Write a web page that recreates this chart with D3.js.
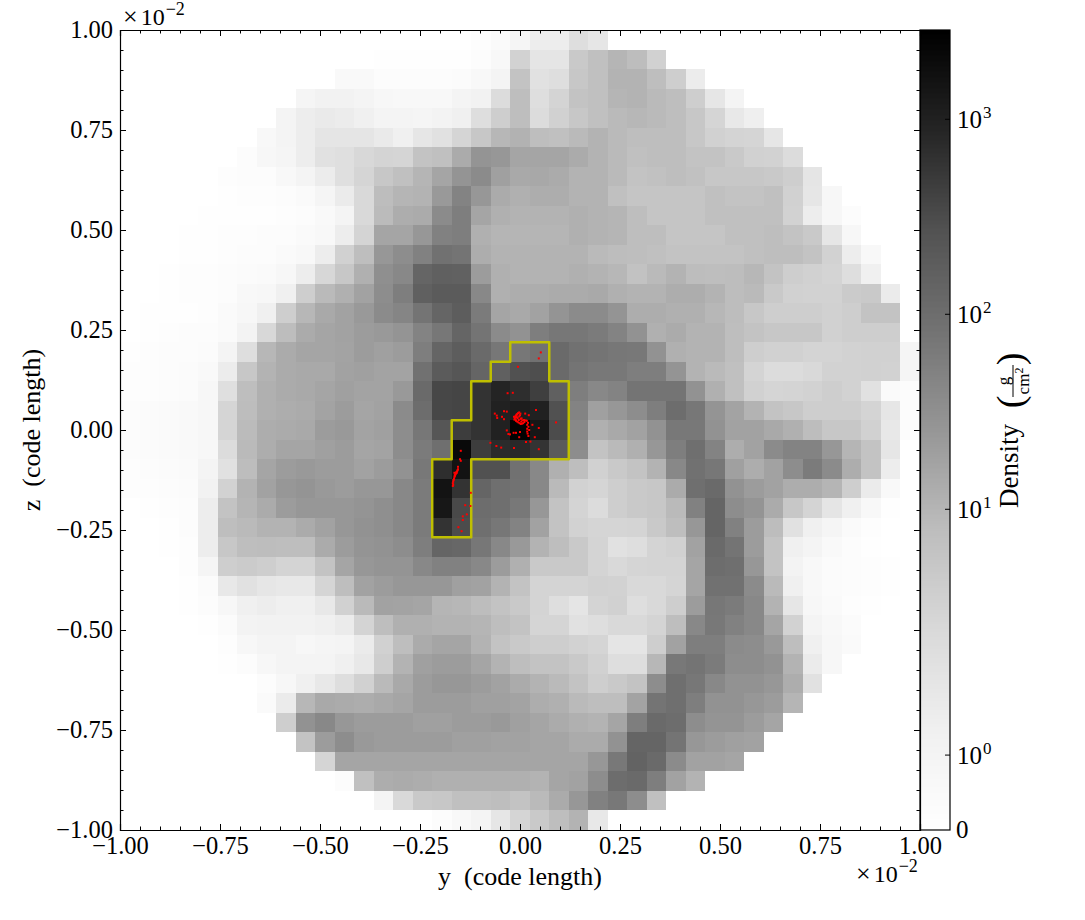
<!DOCTYPE html>
<html>
<head>
<meta charset="utf-8">
<script src="https://cdn.jsdelivr.net/npm/d3@7"></script>
<style>
    html, body { margin: 0; padding: 0; background: #fff; }
    text { font-family: "Liberation Serif", serif; fill: #000; }
</style>
</head>
<body>
<div id="chart"></div>
<script>
// projected density per cell, top row first, left to right
const density = [
[0,0,0,0,0,0,0,0,0,0,0,0,0,0,0,0,0,0,.2,.44,.89,1.5,1.5,2.4,1.9,0,0,0,0,0,0,0,0,0,0,0,0,0,0,0,0],
[0,0,0,0,0,0,0,0,0,0,0,0,0,.1,.1,.1,.1,.1,.25,.6,3.2,2,2,4.8,6.8,10,7.8,3.4,0,0,0,0,0,0,0,0,0,0,0,0,0],
[0,0,0,0,0,0,0,0,0,0,0,.5,.5,.25,.25,.25,.25,.35,.6,1,6,2.2,2.4,5.2,6.8,10.6,10.6,7.4,3.9,1.55,0,0,0,0,0,0,0,0,0,0,0],
[0,0,0,0,0,0,0,0,0,.89,1.2,1.2,.95,.75,.6,.6,.6,.95,1.2,2.5,7.4,2.4,3,6,6.8,10,10.6,8.6,7.4,3.9,1.9,1,0,0,0,0,0,0,0,0,0],
[0,0,0,0,0,0,0,0,1,1.5,1.7,1.55,1.33,1,.95,.89,1.1,1.33,2.4,3.9,7.4,2.5,3.4,5.2,6.8,8.6,9.4,8.6,7.4,5.2,2.85,1.8,1.4,0,0,0,0,0,0,0,0],
[0,0,0,0,0,0,0,.6,1,1.5,2,2,2,1.7,1.33,1.9,2.2,2.85,5.2,9.4,11,7.4,6.8,8.6,10.6,8.6,7.4,7.4,7.4,5.2,3.4,3,2.85,1.9,0,0,0,0,0,0,0],
[0,0,0,0,0,0,.25,.7,.89,1.5,2.2,2.3,2.7,3,2.9,6,6.8,13.6,27,25,16,16,16,13.6,10.6,8.6,6.8,7.4,7.4,6,6,4.8,3.4,3.2,2.5,0,0,0,0,0,0],
[0,0,0,0,0,.2,.25,.25,.6,.95,1.55,2.3,2.9,5.2,6.8,10,16,27,37,19,14.5,15,13.6,10.6,10.6,8.6,6,6.5,7.4,6.5,5.2,5.2,5.2,4.8,3.9,2,0,0,0,0,0],
[0,0,0,0,0,.1,.2,.2,.25,.44,.89,1.63,2.65,7.8,10,10.6,23,49,25,13.6,11.7,12.8,12.8,10.6,10.6,6.8,5.6,5.6,5.6,5.6,6.8,6,6,6.8,3.4,1.9,.75,0,0,0,0],
[0,0,0,0,.1,.1,.1,.1,.2,.25,.5,.95,2.65,8.4,12.8,13.6,37,57,16,11.7,10.6,10.6,10.6,11.7,10.6,10,7.4,5.6,5.6,5.6,6.8,6.8,6.8,6.8,3.2,1.5,.75,.25,0,0,0],
[0,0,0,.1,.1,.2,.2,.25,.25,.44,.6,1.5,3,16,16,25,52,57,11.7,10,10,10,10,11.7,10.6,10,7.4,7.4,5.6,5.6,5.6,6.8,6.8,7.4,6,4.8,1.9,.7,0,0,0],
[0,0,0,.1,.1,.2,.25,.25,.44,.6,1.5,3.4,7.4,25,35,52,90,81,12.8,10.6,10.6,10.6,10.6,10.6,8.6,7.8,7.4,6.8,6,6,6,6,6.8,7.4,7.4,6,3.2,1.5,.6,0,0],
[0,0,.1,.2,.2,.25,.35,.44,.7,1.5,2.75,5.2,11.7,32,41,138,164,158,21,11.7,10.6,10.6,10.6,11.7,10.6,9.4,6.4,8.6,10.6,7.8,7.4,7.8,9.4,6,3.9,3.4,3,2.4,1.33,0,0],
[0,0,.1,.2,.2,.25,.6,.75,1.33,3.9,8.6,11.7,18,35,57,164,199,199,41,11.7,12.8,12.8,13.6,13.6,14.5,11.7,10.6,10.6,12.8,12.8,10.6,7.8,8.6,4.8,3.4,3.2,3.2,4.3,4.8,1.63,0],
[0,.1,.1,.1,.2,.44,.75,1.33,3.9,9.4,14.5,18,23,37,45,81,138,185,64,16,14.5,18,27,37,37,27,12.8,12.8,11.7,11.7,9.4,7.8,5.2,3.9,3.9,3.9,3.4,3.9,6,6,0],
[0,.1,.2,.25,.25,.44,1.1,2.7,7.8,13.6,16,18,21,23,27,49,73,138,81,37,29,57,73,73,64,49,29,11.7,13.6,10.6,10.6,7.4,6,5.2,5.2,5.2,3.4,3.9,3.9,3.9,0],
[.1,.2,.25,.25,.35,.95,2.4,9.4,13.6,16,16,17,21,19,21,57,138,185,115,73,73,90,115,90,81,73,69,29,11.7,10.6,10.6,7.4,3.9,3.4,3.4,3,3,3.2,3.4,3.4,.89],
[.2,.2,.25,.35,.5,1.55,5.2,10.6,13.6,14.5,14.5,18,19,17,17,90,199,237,138,164,277,300,115,81,69,69,57,57,27,10.6,8.6,6.8,3,2.5,2.5,2.65,3.2,3.2,3.4,3.2,.89],
[.2,.2,.25,.35,.7,2.3,7.4,11.7,13.6,14.5,16,19,17,17,23,115,362,385,610,900,695,445,164,57,41,49,81,81,81,29,11.7,6.8,3.4,2.9,3,3.2,3.9,3.2,2.2,.44,.25],
[.25,.35,.44,.5,.75,2.85,7.8,11.7,12.8,13.6,17,21,16,18,37,103,362,385,610,1010,1150,1010,277,49,19,25,35,57,103,73,27,17,10.6,6,5.2,3.9,3.9,3.9,3,1.9,.25],
[.25,.35,.44,.5,.75,2.9,8.4,12.8,13.6,14.5,21,23,17,19,35,73,237,470,610,1010,2650,1390,320,41,11.7,14.5,18,29,69,69,29,18,18,14.5,11.7,7.8,5.2,5.2,3.4,1.8,.25],
[.25,.35,.44,.5,.7,2.5,8.6,12.8,16,16,19,21,16,17,35,64,97,2170,470,750,792,610,199,35,6,8.6,11.7,25,57,97,49,12.8,18,37,49,49,25,10,6,1.9,0],
[.2,.25,.35,.44,1,2.2,7.8,16,21,23,21,21,18,21,29,69,695,1580,277,277,90,41,11.7,7.4,3.4,4.8,6,10.6,41,90,73,19,12.8,18,35,64,37,12.8,6,1.5,0],
[.2,.2,.25,.35,1.2,3.2,10.6,18,25,27,23,21,25,25,41,64,1580,610,138,97,85,41,8.6,3.2,2.85,3.9,4.8,5.2,13.6,97,115,29,21,18,12.8,12.8,10,3.9,1.63,.5,0],
[0,.1,.2,.25,1.5,6,10,13.6,21,25,25,25,27,32,41,64,1390,345,103,97,69,25,6,3,2.5,3.9,4.8,5.2,8.6,52,138,35,27,13.6,5.2,3,2,1.33,.6,.1,0],
[0,0,.1,.25,1.5,7.4,8.6,10.6,10.6,13.6,18,25,29,32,41,64,610,320,97,73,49,18,6,3.2,2.85,2.85,3,4.8,7.4,25,138,52,21,7.8,2.2,1.33,.89,.44,.2,0,0],
[0,0,.1,.2,1.5,5.2,7.4,7.8,7.4,7.4,13.6,21,27,29,35,57,138,128,73,41,23,10.6,7.4,4.8,3,2.2,2.4,3,3.4,18,115,81,21,6,1.33,.95,.5,.25,.1,0,0],
[0,0,0,.2,.89,3.9,4.3,3.9,3,3,6,16,25,27,27,41,52,52,41,21,11.7,4.8,4.8,4.8,3,2.65,2.85,3,3,16,103,97,25,6,1.1,.6,.35,.25,.2,.1,0],
[0,0,0,.1,.35,1.8,2.2,1.9,1.8,1.8,2.85,7.4,18,21,25,25,25,19,18,10.6,6,3,3,3,3.4,3.2,2.65,2.65,2.85,16,90,90,37,8.6,1.33,.6,.35,.25,.2,.1,0],
[0,0,0,.1,.25,.75,1.33,1.5,1.33,1.33,1.8,3.4,8.6,18,17,16,10,9.4,7.8,6,4.8,3,2.4,2,3,3.4,2.4,2.65,3.9,21,73,64,41,10.6,1.9,.7,.44,.2,.1,0,0],
[0,0,0,0,.1,.35,1.1,1.2,1.2,1.2,1.33,1.63,3,7.4,11.7,11.7,10.6,10.6,10,7.4,6,2.85,2.85,2.2,2.4,2.65,2.65,3,7.4,41,69,52,41,16,3.2,1,.6,.35,0,0,0],
[0,0,0,0,0,.2,.75,.95,.95,.75,.89,.95,1.63,3.4,7.4,13.6,16,16,10.6,6,4.8,3.9,3.9,3.2,2.85,2,2,3.9,18,57,57,37,35,23,7.4,1.33,.75,.44,0,0,0],
[0,0,0,0,0,.1,.25,.75,.95,.95,.95,1.33,1.8,3.9,10.6,19,21,21,16,10.6,7.4,6,6,4.8,3.4,2.4,2.4,9.4,69,81,64,35,35,29,10.6,1.63,.7,0,0,0,0],
[0,0,0,0,0,0,0,.25,.75,1.33,1.8,2.4,3.4,8.6,14.5,21,25,25,21,18,13.6,10.6,8.6,6,3.9,4.8,6,35,97,73,41,29,29,25,12.8,2.2,0,0,0,0,0],
[0,0,0,0,0,0,0,.44,1.63,9.4,14.5,13.6,12.8,14.5,16,21,21,21,19,19,17,12.8,11.7,8.6,7.4,7.4,17,81,97,57,29,29,25,21,10,0,0,0,0,0,0],
[0,0,0,0,0,0,0,0,3.9,29,41,25,21,21,21,19,19,21,21,23,19,16,13.6,11.7,10.6,16,57,115,103,35,27,27,21,16,0,0,0,0,0,0,0],
[0,0,0,0,0,0,0,0,0,6,21,35,23,21,21,21,21,19,19,18,18,16,16,13.6,13.6,29,138,138,81,25,21,19,18,0,0,0,0,0,0,0,0],
[0,0,0,0,0,0,0,0,0,0,2.85,16,16,16,16,16,16,16,16,16,16,16,16,16,25,69,148,115,37,18,18,16,0,0,0,0,0,0,0,0,0],
[0,0,0,0,0,0,0,0,0,0,0,.25,6.8,12.8,13.6,12.8,11.7,11.7,11.7,11.7,11.7,10.6,16,18,35,103,115,57,18,10.6,0,0,0,0,0,0,0,0,0,0,0],
[0,0,0,0,0,0,0,0,0,0,0,0,0,1,2.65,4.8,5.2,6.8,6.8,7.4,6,8.6,13.6,25,52,69,35,6.8,0,0,0,0,0,0,0,0,0,0,0,0,0],
[0,0,0,0,0,0,0,0,0,0,0,0,0,0,0,0,.25,.6,.95,1.9,2.85,4.8,7.4,10.6,1.8,0,0,0,0,0,0,0,0,0,0,0,0,0,0,0,0]
];

// clump outline, as cell edge numbers
const clumpCols = [20,22,22,23,23,18,18,16,16,17,17,18,18,19,19,20];
const clumpRows = [16,16,18,18,22,22,26,26,22,22,20,20,18,18,17,17];

// particles, y and z
const partY = [.052,.047,-.005,-.031,-.018,-.063,-.040,-.033,-.058,-.057,-.045,-.040,.040,.013,.022,.090,.031,.047,-.033,-.029,-.025,-.016,-.010,0,-.002,.018,.018,.021,.037,.015,.026,-.074,-.059,-.047,-.015,.047,-.148,-.150,-.148,-.155,-.123,-.137,-.124,-.133,-.143,-.143,-.154,-.146,
    -.002,-.007,-.011,-.013,-.010,-.004,.002,.008,0,.004,.010,.017,.018,-.008,-.003,.003,
    -.005,-.009,-.012,-.011,-.007,-.001,.005,.011,.014,-.006,-.002,.002,.006,-.015,-.014,-.009,.001,.020,.021,.023,.019,
    -.168,-.168,-.166,-.164,-.163,-.161,-.158,-.157,-.155,-.164,
    -.167,-.167,-.165,-.163,-.160,-.156,-.162,-.159];
const partZ = [.194,.179,.158,.092,.093,.041,.047,.046,.036,.030,.033,.027,.050,.041,.037,.019,.013,.005,-.001,-.010,-.011,-.007,-.007,-.005,-.018,.003,-.004,-.015,-.018,-.030,-.029,-.032,-.040,-.044,-.045,-.048,-.052,-.073,-.077,-.092,-.157,-.188,-.190,-.211,-.216,-.225,-.243,-.253,
    .044,.040,.035,.029,.023,.019,.015,.017,.037,.029,.025,.023,.013,.032,.025,.021,
    .042,.038,.032,.026,.021,.017,.016,.020,.024,.030,.034,.028,.024,.033,.026,.036,.041,.018,.008,.000,-.009,
    -.140,-.133,-.125,-.118,-.113,-.110,-.107,-.103,-.098,-.107,
    -.137,-.129,-.122,-.115,-.108,-.100,-.112,-.105];

const axisTicks = [-1, -.75, -.5, -.25, 0, .25, .5, .75, 1];
const cbarTicks = [[0, null], [1, '0'], [10, '1'], [100, '2'], [1000, '3']];
const linthresh = 2.87;
const densityMax = 2870;

const width = 1085, height = 920;
const left = 120, right = 920, top_ = 30, bottom = 830;
const cbarLeft = 920, cbarRight = 950;

const svg = d3.select('#chart').append('svg')
    .attr('width', width)
    .attr('height', height);

const x = d3.scaleLinear().domain([-1, 1]).range([left, right]);
const y = d3.scaleLinear().domain([-1, 1]).range([bottom, top_]);
const col = d3.scaleBand().domain(d3.range(41)).range([left, right]);
const row = d3.scaleBand().domain(d3.range(41)).range([top_, bottom]);

// linear below linthresh, log above it
const linPart = d3.scaleLinear().domain([0, linthresh]).range([0, 215 / 800]);
const logPart = d3.scaleLog().domain([linthresh, densityMax]).range([215 / 800, 1]);
const norm = v => v < linthresh ? linPart(v) : logPart(v);
const greys = d3.scaleLinear().domain(d3.range(9).map(i => i / 8)).range(d3.schemeGreys[9]);
const cbarY = d3.scaleLinear().domain([0, 1]).range([bottom, top_]);

// cells
density.forEach((values, j) => {
    svg.append('g').selectAll('rect')
        .data(values)
        .join('rect')
        .attr('x', (d, i) => col(i))
        .attr('y', row(j))
        .attr('width', col.step())
        .attr('height', row.step())
        .attr('fill', d => greys(norm(d)))
        .attr('shape-rendering', 'crispEdges');
});

// clump outline
const edgeX = d3.scaleLinear().domain([0, 41]).range([left, right]);
const edgeY = d3.scaleLinear().domain([0, 41]).range([top_, bottom]);
svg.append('polygon')
    .attr('points', clumpCols.map((c, i) => edgeX(c) + ',' + edgeY(clumpRows[i])).join(' '))
    .attr('fill', 'none')
    .attr('stroke', '#bfbf00')
    .attr('stroke-width', 2.5)
    .attr('stroke-linejoin', 'round');

// particles
svg.append('g').selectAll('rect')
    .data(partY)
    .join('rect')
    .attr('x', d => x(d) - 1)
    .attr('y', (d, i) => y(partZ[i]) - 1)
    .attr('width', 2)
    .attr('height', 2)
    .attr('fill', '#ff0000');

// colorbar
svg.append('g').selectAll('rect')
    .data(d3.range(0, 1, 1 / 800))
    .join('rect')
    .attr('x', cbarLeft)
    .attr('y', d => cbarY(d) - 1)
    .attr('width', cbarRight - cbarLeft)
    .attr('height', 1.5)
    .attr('fill', d => greys(d));

svg.append('rect')
    .attr('x', cbarLeft)
    .attr('y', top_)
    .attr('width', cbarRight - cbarLeft)
    .attr('height', bottom - top_)
    .attr('fill', 'none')
    .attr('stroke', '#000')
    .attr('stroke-width', 1.2);

cbarTicks.forEach(t => {
    const py = cbarY(norm(t[0]));
    if (t[1] === null) {
        svg.append('text').attr('x', 956).attr('y', py + 8).attr('font-size', 25).text('0');
        return;
    }
    svg.append('line')
        .attr('x1', cbarRight - 5).attr('x2', cbarRight)
        .attr('y1', py).attr('y2', py)
        .attr('stroke', '#000').attr('stroke-width', 1);
    const label = svg.append('text').attr('x', 957).attr('y', py + 9).attr('font-size', 25);
    label.append('tspan').text('10');
    label.append('tspan').attr('dx', 1).attr('dy', -10).attr('font-size', 17).text(t[1]);
});

// axes, ticks point inward on all four sides
function drawAxis(maker, scale, tx, ty, withLabels) {
    const minor = d3.range(-20, 21).map(d => d / 20);
    const gMinor = svg.append('g')
        .attr('transform', `translate(${tx},${ty})`)
        .call(maker(scale).tickValues(minor).tickSize(-3.5).tickFormat(''));
    gMinor.select('.domain').remove();
    const gMajor = svg.append('g')
        .attr('transform', `translate(${tx},${ty})`)
        .call(maker(scale).tickValues(axisTicks).tickSize(-6).tickPadding(withLabels ? 7 : 0)
            .tickFormat(withLabels ? d3.format('.2f') : ''));
    gMajor.select('.domain').attr('stroke-width', 1.2);
    gMajor.selectAll('text')
        .attr('font-family', '"Liberation Serif", serif')
        .attr('font-size', 24.5)
        .attr('fill', '#000');
    return gMajor;
}
drawAxis(d3.axisBottom, x, 0, bottom, true);
drawAxis(d3.axisTop, x, 0, top_, false);
drawAxis(d3.axisLeft, y, left, 0, true).selectAll('text').attr('x', -7);
drawAxis(d3.axisRight, y, right, 0, false);

// offset texts
function offset(px, py) {
    const t = svg.append('text').attr('x', px).attr('y', py).attr('font-size', 24);
    t.append('tspan').attr('font-size', 26).text('×');
    t.append('tspan').attr('dx', 3).text('10');
    t.append('tspan').attr('dx', 1).attr('dy', -10).attr('font-size', 18).text('−2');
}
offset(123, 25);
offset(856, 882);

// axis labels
svg.append('text')
    .attr('x', 520).attr('y', 885)
    .attr('text-anchor', 'middle')
    .attr('font-size', 26)
    .attr('xml:space', 'preserve')
    .text('y  (code length)');

svg.append('text')
    .attr('transform', 'translate(40,430) rotate(-90)')
    .attr('text-anchor', 'middle')
    .attr('font-size', 26)
    .attr('xml:space', 'preserve')
    .text('z  (code length)');

// colorbar label
const cbarLabel = svg.append('g').attr('transform', 'translate(1013,0) rotate(-90)');
cbarLabel.append('text').attr('x', -466).attr('y', 5)
    .attr('text-anchor', 'middle').attr('font-size', 27).text('Density');
cbarLabel.append('text').attr('x', -381).attr('y', -4)
    .attr('text-anchor', 'middle').attr('font-size', 17).text('g');
cbarLabel.append('line')
    .attr('x1', -397).attr('x2', -365).attr('y1', 0).attr('y2', 0)
    .attr('stroke', '#000').attr('stroke-width', 1);
const cm = cbarLabel.append('text').attr('x', -381).attr('y', 16)
    .attr('text-anchor', 'middle').attr('font-size', 17);
cm.append('tspan').text('cm');
cm.append('tspan').attr('dy', -6).attr('font-size', 12).text('2');
cbarLabel.append('text').attr('x', -402).attr('y', 10)
    .attr('text-anchor', 'middle').attr('font-size', 38).text('(');
cbarLabel.append('text').attr('x', -359).attr('y', 10)
    .attr('text-anchor', 'middle').attr('font-size', 38).text(')');
</script>
</body>
</html>
